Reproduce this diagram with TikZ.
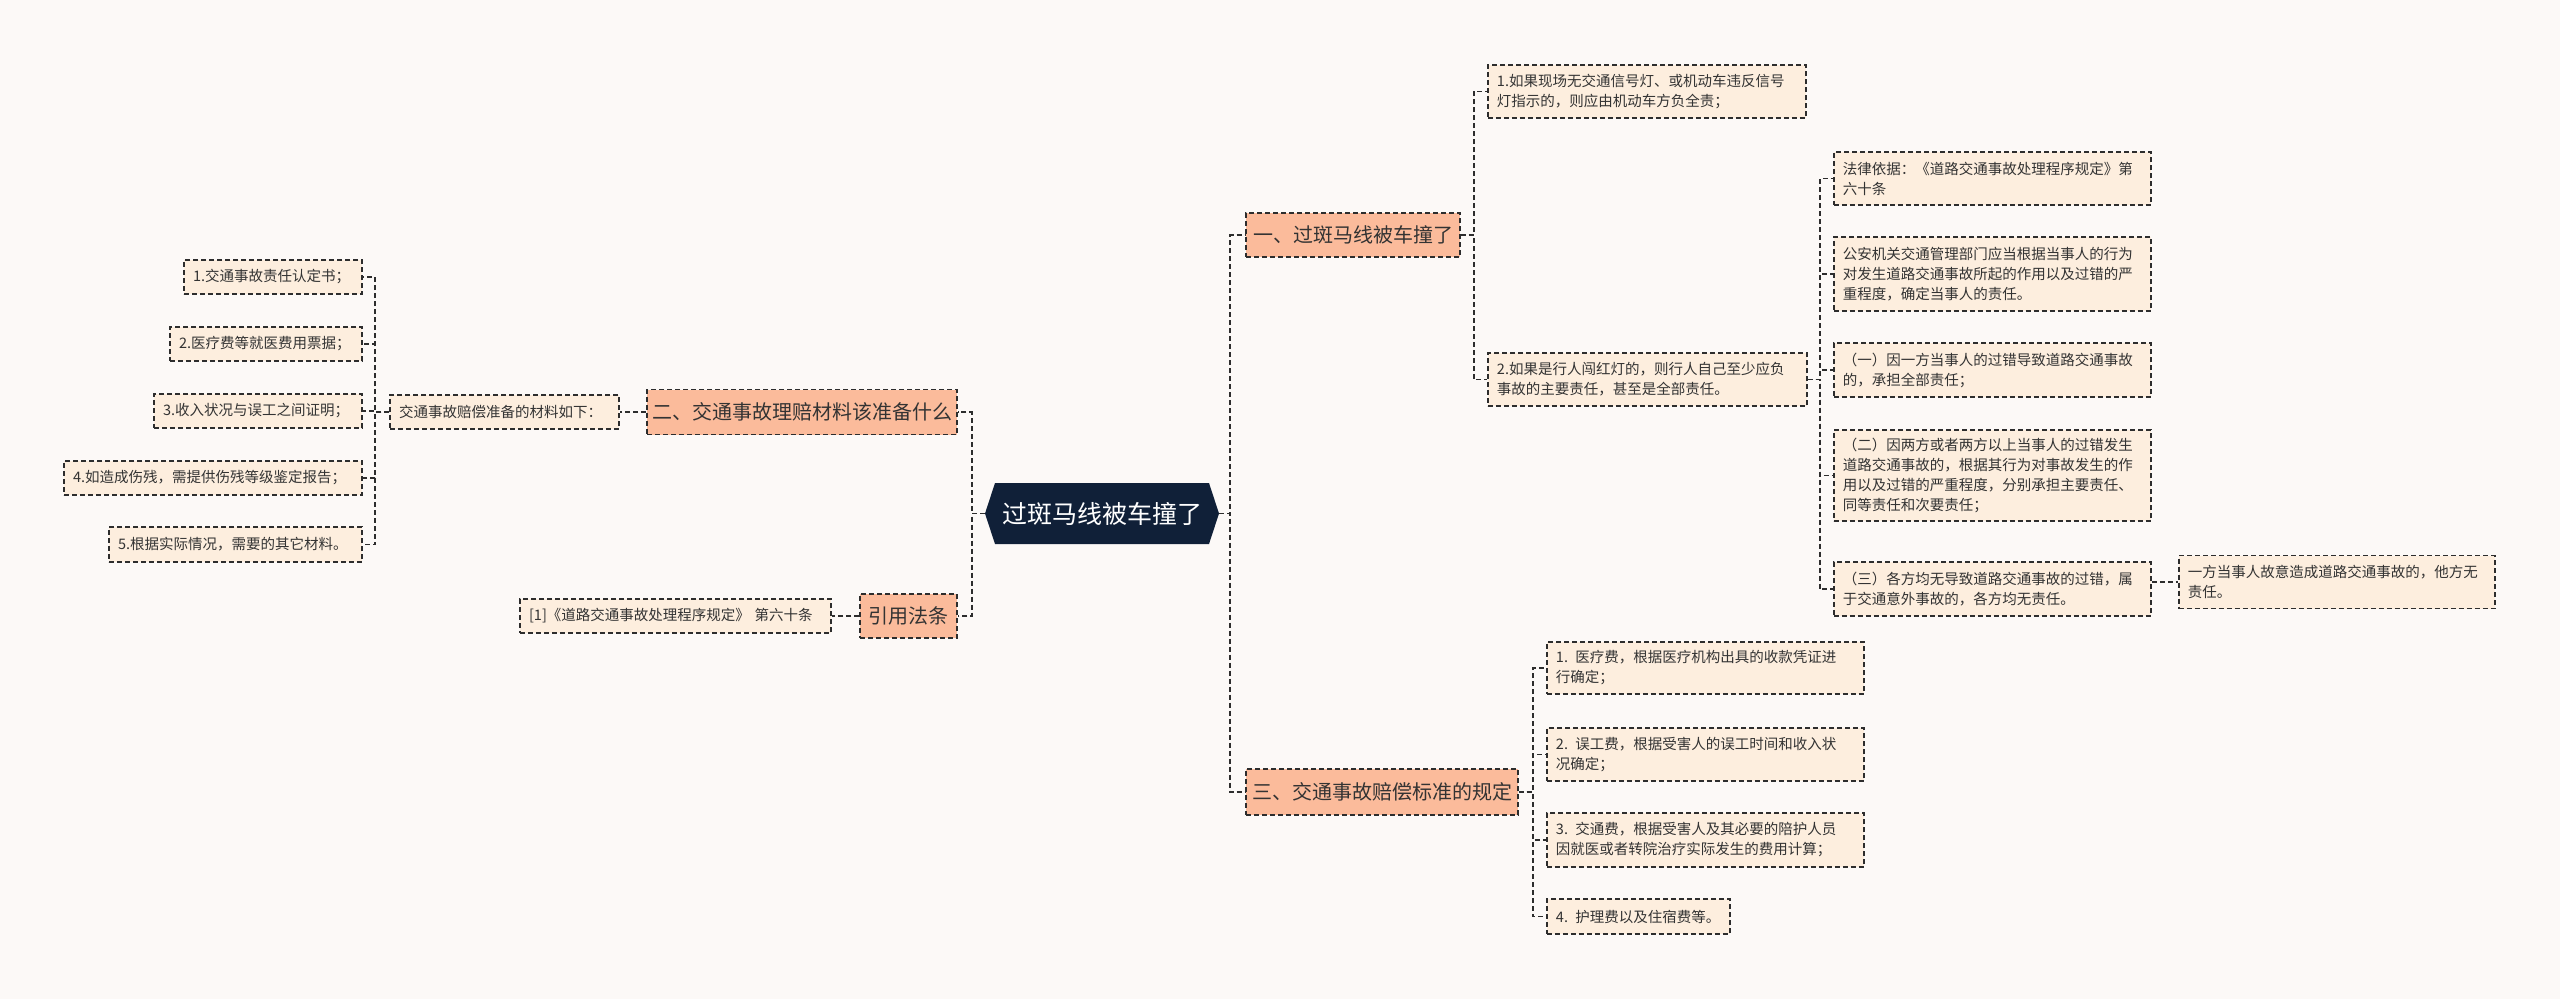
\documentclass[tikz,border=0pt]{standalone}
\usepackage{fontspec}
\setmainfont{Noto Sans CJK SC}
\usepackage{xcolor}
\usepackage{tikz}
\definecolor{bgc}{RGB}{252,249,247}
\definecolor{rootc}{RGB}{16,32,56}
\definecolor{branchc}{RGB}{251,187,155}
\definecolor{leafc}{RGB}{253,238,222}
\definecolor{linec}{RGB}{45,45,45}
\definecolor{textc}{RGB}{51,51,51}
\tikzset{
link/.style={draw=linec,line width=1.9pt,dash pattern=on 5pt off 3pt},
branch/.style={draw=linec,line width=1.9pt,dash pattern=on 5pt off 3pt,fill=branchc,text=textc,font=\fontsize{20}{24}\selectfont,inner sep=0pt},
leaf/.style={draw=linec,line width=1.9pt,dash pattern=on 5pt off 3pt,fill=leafc,text=textc,font=\fontsize{14.5}{20}\selectfont,align=left,inner xsep=9pt,inner ysep=3pt,anchor=west}
}
\begin{document}
\begin{tikzpicture}[x=1pt,y=-1pt]
\useasboundingbox (0,0) rectangle (2560,999);
\fill[bgc] (0,0) rectangle (2560,999);
\fill[rootc] (995,483)--(1209,483)--(1219,513.5)--(1209,544)--(995,544)--(985,513.5)--cycle;
\node (root) at (1102,513.5) [text=white,font=\fontsize{25}{30}\selectfont,minimum width=234pt,minimum height=61pt,inner sep=0pt] {过斑马线被车撞了};
\node (one) at (1353,235) [branch,minimum width=214pt,minimum height=44pt] {一、过斑马线被车撞了};
\node (two) at (802,412) [branch,minimum width=310pt,minimum height=45pt] {二、交通事故理赔材料该准备什么};
\node (law) at (908.5,616) [branch,minimum width=97pt,minimum height=44pt] {引用法条};
\node (three) at (1382,792) [branch,minimum width=272pt,minimum height=46pt] {三、交通事故赔偿标准的规定};
\node (a1) at (1487,91.5) [leaf,text width=300pt,minimum height=53pt] {1.如果现场无交通信号灯、或机动车违反信号\\灯指示的，则应由机动车方负全责；};
\node (a2) at (1487,379.5) [leaf,text width=301pt,minimum height=53pt] {2.如果是行人闯红灯的，则行人自己至少应负\\事故的主要责任，甚至是全部责任。};
\node (b1) at (1833,178.5) [leaf,text width=299pt,minimum height=53pt] {法律依据：《道路交通事故处理程序规定》第\\六十条};
\node (b2) at (1833,274) [leaf,text width=299pt,minimum height=74pt] {公安机关交通管理部门应当根据当事人的行为\\对发生道路交通事故所起的作用以及过错的严\\重程度，确定当事人的责任。};
\node (b3) at (1833,370) [leaf,text width=299pt,minimum height=54pt] {（一）因一方当事人的过错导致道路交通事故\\的，承担全部责任；};
\node (b4) at (1833,475.5) [leaf,text width=299pt,minimum height=91pt] {（二）因两方或者两方以上当事人的过错发生\\道路交通事故的，根据其行为对事故发生的作\\用以及过错的严重程度，分别承担主要责任、\\同等责任和次要责任；};
\node (b5) at (1833,589) [leaf,text width=299pt,minimum height=54pt] {（三）各方均无导致道路交通事故的过错，属\\于交通意外事故的，各方均无责任。};
\node (c1) at (2178,582) [leaf,text width=298pt,minimum height=53pt] {一方当事人故意造成道路交通事故的，他方无\\责任。};
\node (d1) at (1546,668) [leaf,text width=299pt,minimum height=52pt] {1. 医疗费，根据医疗机构出具的收款凭证进\\行确定；};
\node (d2) at (1546,754.5) [leaf,text width=299pt,minimum height=53pt] {2. 误工费，根据受害人的误工时间和收入状\\况确定；};
\node (d3) at (1546,840) [leaf,text width=299pt,minimum height=54pt] {3. 交通费，根据受害人及其必要的陪护人员\\因就医或者转院治疗实际发生的费用计算；};
\node (d4) at (1546,916.5) [leaf,text width=165pt,minimum height=35pt] {4. 护理费以及住宿费等。};
\node (m) at (620,412) [leaf,anchor=east,text width=211pt,minimum height=34pt] {交通事故赔偿准备的材料如下：};
\node (e1) at (363,277) [leaf,anchor=east,text width=160pt,minimum height=34pt] {1.交通事故责任认定书；};
\node (e2) at (363,344) [leaf,anchor=east,text width=174pt,minimum height=34pt] {2.医疗费等就医费用票据；};
\node (e3) at (363,411) [leaf,anchor=east,text width=190pt,minimum height=34pt] {3.收入状况与误工之间证明；};
\node (e4) at (363,478) [leaf,anchor=east,text width=280pt,minimum height=34pt] {4.如造成伤残，需提供伤残等级鉴定报告；};
\node (e5) at (363,544.5) [leaf,anchor=east,text width=235pt,minimum height=35pt] {5.根据实际情况，需要的其它材料。};
\node (f) at (832,616) [leaf,anchor=east,text width=293pt,minimum height=34pt] {[1]《道路交通事故处理程序规定》 第六十条};
\draw[link] (root.east)--++(11,0)|-(one.west);
\draw[link] (root.east)--++(11,0)|-(three.west);
\draw[link] (root.west)--++(-13,0)|-(two.east);
\draw[link] (root.west)--++(-13,0)|-(law.east);
\draw[link] (two.west)--(m.east);
\draw[link] (law.west)--(f.east);
\foreach \n in {e1,e2,e3,e4,e5}
\draw[link] (m.west)--++(-14,0)|-(\n.east);
\foreach \n in {a1,a2}
\draw[link] (one.east)--++(13,0)|-(\n.west);
\foreach \n in {b1,b2,b3,b4,b5}
\draw[link] (a2.east)--++(12,0)|-(\n.west);
\draw[link] (b5.east|-c1.west)--(c1.west);
\foreach \n in {d1,d2,d3,d4}
\draw[link] (three.east)--++(14,0)|-(\n.west);
\end{tikzpicture}
\end{document}
